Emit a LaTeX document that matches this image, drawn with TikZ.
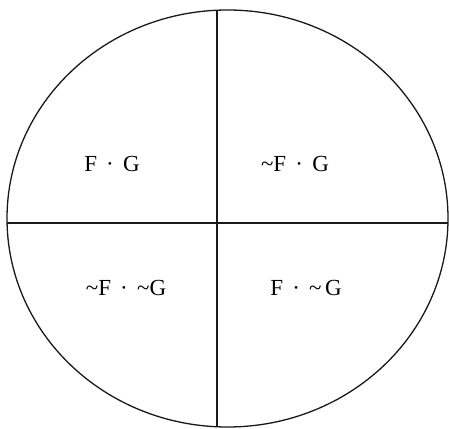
\documentclass[tikz,border=0pt]{standalone}
\usepackage{fontspec}
\setmainfont{Liberation Serif}
\newcommand{\tld}{\char"007E\relax}
\newcommand{\sdot}{\hspace{0.4em}·\hspace{0.4em}}
\tikzset{lab/.style={font=\fontsize{23}{26}\selectfont, inner sep=0pt, anchor=center},
  ln/.style={line width=1.3pt, black!90}}
\begin{document}
\begin{tikzpicture}[x=1pt,y=-1pt]
\useasboundingbox (0,0) rectangle (449,428);
\coordinate (c) at (227.5,218.5);
\draw[ln] (c) ellipse [x radius=220.5, y radius=208.5];
\coordinate (vt) at (217,10.3);
\coordinate (vb) at (217,426.7);
\coordinate (hl) at (7.1,223);
\coordinate (hr) at (447.9,223);
\draw[ln] (vt) -- (vb);
\draw[ln] (hl) -- (hr);
\node[lab] (q1) at (112,164) {F\sdot G};
\node[lab] (q2) at (295,164) {\tld F\sdot G};
\node[lab] (q3) at (126,288) {\tld F\sdot\tld G};
\node[lab] (q4) at (306,288) {F\sdot\tld\hspace{0.15em}G};
\end{tikzpicture}
\end{document}
